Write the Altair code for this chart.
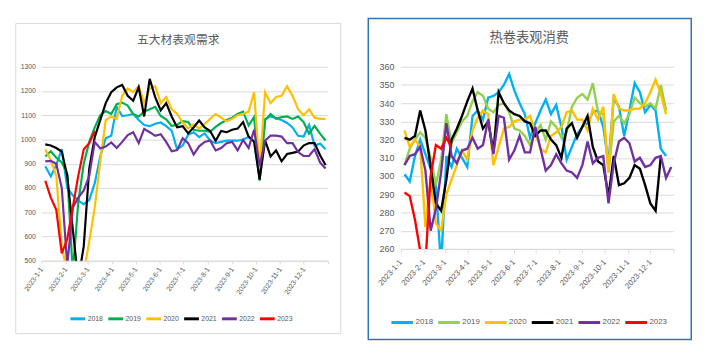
import altair as alt
import pandas as pd

YEARS = ["2018", "2019", "2020", "2021", "2022", "2023"]
COLORS_L = ["#00B0F0", "#00B050", "#FFC000", "#000000", "#7030A0", "#FF0000"]
COLORS_R = ["#00B0F0", "#92D050", "#FFC000", "#000000", "#7030A0", "#FF0000"]

TITLE_L = "五大材表观需求"
TITLE_R = "热卷表观消费"

# ---- left panel: weekly values (week 1 = 2023-01-06) ----
L2018 = [890, 848, 895, 960, 800, 770, 748, 733, 750, 820,
         930, 1005, 1015, 1135, 1097, 1100, 1105, 1080, 1060, 1055,
         1065, 1070, 1055, 1036, 960, 975, 1020, 1030, 1010, 1025,
         995, 985, 990, 995, 995, 995, 1000, 1010, 990, 840,
         1085, 1095, 1088, 1080, 1068, 1050, 1015, 1012, 1060, 975,
         983, 960]
L2019 = [930, 951, 925, 905, 860, 450, 740, 900, 990, 1050,
         1100, 1117, 1105, 1146, 1152, 1140, 1105, 1095, 1115, 1125,
         1135, 1097, 1083, 1056, 1060, 1076, 1072, 1040, 1036, 1036,
         1032, 1052, 1068, 1080, 1090, 1105, 1115, 1058, 1093, 830,
         1080, 1105, 1085, 1092, 1095, 1085, 1095, 1072, 1024, 1056,
         1024, 996]
L2020 = [960, 915, 850, 560, 450, 430, 420, 450, 580, 720,
         910, 1080, 1095, 1085, 1180, 1210, 1195, 1220,
         1150, 1210, 1220, 1150, 1175, 1125, 1105, 1070, 1045, 1062, 1045, 1064, 1085, 1105, 1090, 1075,
         1085, 1100, 1105, 1115, 1195, 880, 1195, 1150, 1175, 1180, 1220, 1180, 1125, 1100, 1125, 1090,
         1085, 1085]
L2021 = [980, 975, 965, 950, 850, 630, 420, 560, 880, 1010,
         1080, 1150, 1195, 1215, 1225, 1180, 1160, 1215, 1095, 1250,
         1175, 1120, 1150, 1095, 1050, 1055, 1025, 1050, 1078, 1050,
         1035, 995, 1035, 1030, 1040, 1045, 1072, 1012, 992, 835,
         996, 930, 955, 910, 940, 945, 950, 975, 985, 985,
         935, 895]
L2022 = [910, 912, 900, 800, 480, 720, 760, 790, 850, 990,
         963, 971, 988, 965, 990, 1018, 1030, 985, 1044, 1030,
         1015, 1022, 990, 951, 956, 1005, 985, 938, 972, 990,
         996, 955, 965, 985, 990, 955, 998, 965, 1040, 890,
         996, 1016, 1016, 1012, 985, 985, 948, 932, 932, 960,
         905, 880]
L2023 = [830, 760, 710, 530, 590, 720, 850, 960, 985, 1035]

# ---- right panel ----
R2018 = [301, 297, 311, 320, 312, 304, 295, 250, 311, 305,
         315, 310, 305, 333, 336, 331, 343, 344, 346, 350,
         356, 347, 340, 334, 321, 329, 336, 342, 334, 339,
         327, 309, 316, 323, 327, 329, 335, 336, 327, 307,
         343, 338, 322, 336, 351, 346, 335, 339, 336, 315,
         311]
R2019 = [306, 315, 320, 324, 321, 310, 295, 309, 334, 318,
         324, 330, 333, 341, 346, 344, 337, 335, 339, 340,
         335, 326, 325, 322, 317, 324, 328, 320, 330, 327,
         321, 324, 338, 343, 345, 342, 351, 335, 334, 302,
         330, 333, 329, 334, 343, 340, 338, 340, 337, 350,
         336]
R2020 = [325, 316, 320, 316, 272, 300, 274, 270, 290, 298,
         306, 314, 309, 325, 332, 336, 334, 306, 316, 326,
         327, 330, 331, 331, 333, 324, 315, 313, 322, 324,
         327, 335, 336, 331, 331, 325, 337, 331, 338, 302,
         345, 337, 336, 336, 337, 337, 340, 346, 353, 345,
         334]
R2021 = [321, 320, 322, 336, 325, 305, 285, 281, 298, 320,
         326, 333, 341, 348, 336, 326, 330, 313, 346, 340,
         336, 334, 333, 330, 329, 322, 325, 325, 320, 317,
         310, 326, 329, 321, 327, 333, 316, 308, 306, 289,
         311, 295, 296, 299, 306, 304, 295, 285, 281, 311]
R2022 = [306, 311, 312, 316, 303, 270, 282, 302, 329, 311,
         307, 314, 315, 321, 315, 317, 331, 312, 333, 332,
         309, 314, 322, 313, 313, 327, 315, 303, 306, 312,
         307, 303, 302, 299, 306, 319, 307, 310, 311, 285,
         307, 319, 321, 318, 308, 310, 305, 306, 310, 311,
         299, 305]
R2023 = [291, 289, 276, 259, 252, 300, 317, 315, 321, 316]

Y_TICKS_L = list(range(500, 1301, 100))
Y_TICKS_R = list(range(260, 361, 10))


def long_df(series):
    start = pd.Timestamp("2023-01-06")
    rows = []
    for yr, vals in zip(YEARS, series):
        for i, v in enumerate(vals):
            d = start + pd.Timedelta(days=7 * i)
            rows.append({"date": d.strftime("%Y-%m-%dT00:00:00"), "year": yr, "value": v})
    return pd.DataFrame(rows)


MONTHS = [alt.DateTime(year=2023, month=m, date=1) for m in range(1, 13)] + [
    alt.DateTime(year=2024, month=1, date=1)]
XDOM = [alt.DateTime(year=2023, month=1, date=1), alt.DateTime(year=2024, month=1, date=1)]
GRAY = "#595959"
GRID = "#d9d9d9"
NUMFONT = "Liberation Sans"
CJK = "Noto Sans CJK SC"


def panel(df, colors, title, w, h, ydom, yticks, border, border_color, border_w,
          title_pos, title_size, lab_angle, lab_size, tick_size, lab_pad,
          ylab_size, ylab_pad, leg_pos, leg_font, sym_size, col_pad, line_w):
    frame = alt.Chart(pd.DataFrame({"k": [0]})).mark_rect(
        fillOpacity=0, stroke=border_color, strokeWidth=border_w
    ).encode(x=alt.value(border[0]), x2=alt.value(border[1]),
             y=alt.value(border[2]), y2=alt.value(border[3]))
    ttl = alt.Chart(pd.DataFrame({"t": [title]})).mark_text(
        font=CJK, fontSize=title_size, color=GRAY, align="center", baseline="middle"
    ).encode(text="t:N", x=alt.value(title_pos[0]), y=alt.value(title_pos[1]))
    lines = alt.Chart(df).mark_line(strokeWidth=line_w, clip=True).encode(
        x=alt.X("date:T", scale=alt.Scale(domain=XDOM),
                axis=alt.Axis(values=MONTHS, title=None, grid=False,
                              labelExpr="year(datum.value) > 2023 ? '' : timeFormat(datum.value, '%Y-%-m-%-d')",
                              labelAngle=lab_angle, labelAlign="right", labelBaseline="middle",
                              labelFontSize=lab_size, labelFont=NUMFONT, labelColor=GRAY,
                              labelPadding=lab_pad, tickSize=tick_size, tickColor=GRID,
                              domainColor=GRID, labelOverlap=False)),
        y=alt.Y("value:Q", scale=alt.Scale(domain=ydom, nice=False, zero=False),
                axis=alt.Axis(values=yticks, format="d", title=None, domain=False, ticks=False,
                              gridColor=GRID, labelFontSize=ylab_size, labelFont=NUMFONT,
                              labelColor=GRAY, labelPadding=ylab_pad)),
        color=alt.Color("year:N", scale=alt.Scale(domain=YEARS, range=colors),
                        legend=alt.Legend(orient="none", legendX=leg_pos[0], legendY=leg_pos[1],
                                          direction="horizontal", columns=6, title=None,
                                          symbolType="stroke", symbolSize=sym_size,
                                          symbolStrokeWidth=3, labelFontSize=leg_font,
                                          labelFont=NUMFONT, labelColor=GRAY, labelOffset=1,
                                          columnPadding=col_pad, padding=0)),
    )
    return alt.layer(frame, ttl, lines).properties(width=w, height=h)


left = panel(long_df([L2018, L2019, L2020, L2021, L2022, L2023]), COLORS_L, TITLE_L,
             291, 197, [500, 1300], Y_TICKS_L, (-26, 304, -44, 271), "#d9d9d9", 1,
             (139, -27), 12, -55, 7, 3, 4, 7, 6, (28, 247), 7, 225, -1.5, 2.2)
right = panel(long_df([R2018, R2019, R2020, R2021, R2022, R2023]), COLORS_R, TITLE_R,
              277, 185, [260, 360], Y_TICKS_R, (-33, 295, -49, 277), "#2E75B6", 1.5,
              (130.5, -29), 13.5, -48, 8, 4, 8, 9, 7, (-11, 247), 8, 484, -1.5, 2.4)

chart = alt.hconcat(left, right, spacing=74, bounds="flush").resolve_scale(
    color="independent", x="independent", y="independent"
).properties(
    padding={"left": 15, "top": 15, "right": 15, "bottom": 15}, background="white"
).configure_view(strokeWidth=0)

chart.save("out.html", embed_options={"renderer": "svg", "actions": False})
